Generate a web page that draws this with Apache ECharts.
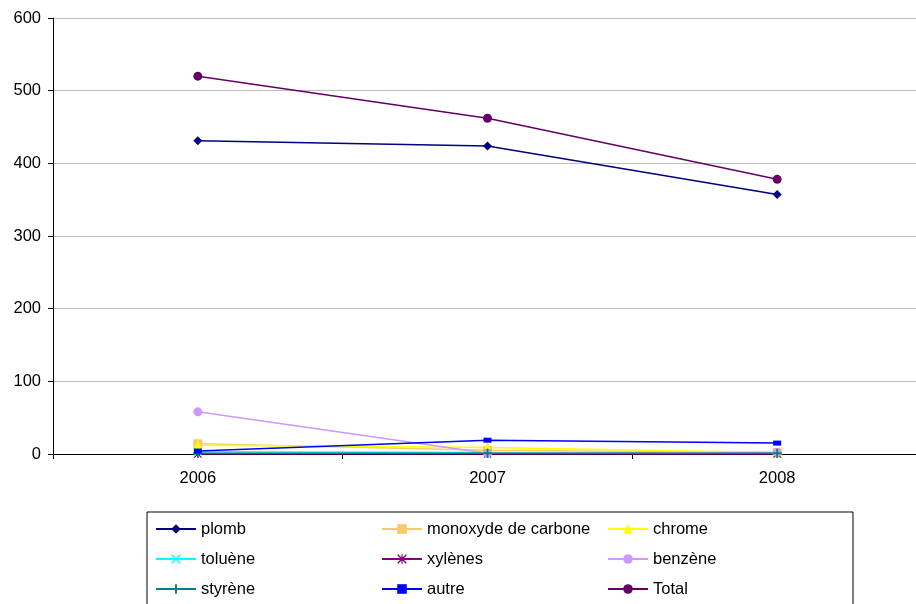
<!DOCTYPE html>
<html><head><meta charset="utf-8">
<script src="https://cdn.jsdelivr.net/npm/echarts@6/dist/echarts.min.js"></script>
<style>html,body{margin:0;padding:0;background:#fff}#c{width:916px;height:604px}</style>
</head><body><div id="c"></div>
<script>
const years = ['2006', '2007', '2008'];
const yTicks = [0, 100, 200, 300, 400, 500, 600];
const plomb = [431, 424, 357];
const monoxyde = [14, 5, 2];
const chrome = [12, 9, 2];
const toluene = [3, 2, 1];
const xylenes = [0, 0, 0];
const benzene = [58, 1, 2];
const styrene = [1, 1, 1];
const autre = [4, 19, 15];
const total = [520, 462, 378];

const PLUS = 'path://M4,0H6V4H10V6H6V10H4V6H0V4H4Z';
const XS = 'path://M0,1L1,0L5,4L9,0L10,1L6,5L10,9L9,10L5,6L1,10L0,9L4,5Z';
const AST = 'path://M0,1L1,0L5,4L9,0L10,1L6,5L10,9L9,10L5,6L1,10L0,9L4,5Z M4.4,0H5.6V10H4.4Z';

function s(name, data, color, symbol, size) {
  return {
    name, type: 'line', data, symbol, symbolSize: size, showAllSymbol: true,
    lineStyle: { color, width: 1.5 }, itemStyle: { color }, animation: false
  };
}
const chart = echarts.init(document.getElementById('c'), null, { renderer: 'canvas' });
chart.setOption({
  animation: false,
  textStyle: { fontFamily: 'Liberation Sans, Arial, sans-serif' },
  grid: { left: 53, top: 18, width: 869, bottom: 150, containLabel: false, outerBoundsMode: 'none' },
  xAxis: {
    type: 'category', data: years, boundaryGap: true,
    axisLine: { lineStyle: { color: '#000', width: 1 } },
    axisTick: { show: true, alignWithLabel: false, length: 5, lineStyle: { color: '#000' } },
    axisLabel: { color: '#000', fontSize: 16.5, margin: 16 },
    splitLine: { show: false }
  },
  yAxis: {
    type: 'value', min: yTicks[0], max: yTicks[yTicks.length - 1], interval: 100,
    axisLine: { show: true, lineStyle: { color: '#000', width: 1 } },
    axisTick: { show: true, length: 5, lineStyle: { color: '#000' } },
    axisLabel: { color: '#000', fontSize: 16.5, margin: 12 },
    splitLine: { lineStyle: { color: '#BDBDBD', width: 1 } }
  },
  legend: {
    left: 147, top: 512, width: 760,
    orient: 'horizontal',
    padding: [7, 30, 20, 8],
    borderColor: '#000', borderWidth: 1,
    itemWidth: 40, itemHeight: 12, itemGap: 10,
    textStyle: { color: '#000', fontSize: 16.5, width: 170, lineHeight: 20, overflow: 'none' },
    data: ['plomb', 'monoxyde de carbone', 'chrome', 'toluène', 'xylènes', 'benzène', 'styrène', 'autre', 'Total']
  },
  series: [
    s('plomb', plomb, '#000080', 'diamond', 9),
    s('monoxyde de carbone', monoxyde, '#F9C96B', 'rect', 9),
    s('chrome', chrome, '#FFFF00', 'triangle', 10),
    s('toluène', toluene, '#00FFFF', XS, 8),
    s('xylènes', xylenes, '#800080', AST, 8),
    s('benzène', benzene, '#CC99FF', 'circle', 9),
    s('styrène', styrene, '#008080', PLUS, 9),
    s('autre', autre, '#0000FF', 'rect', [8, 5]),
    s('Total', total, '#660066', 'circle', 9)
  ]
});
</script></body></html>
